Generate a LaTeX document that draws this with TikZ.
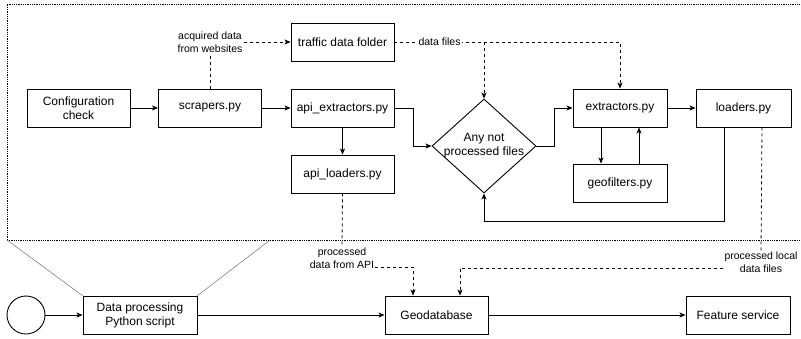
\documentclass[tikz,border=0pt]{standalone}
\usepackage{fontspec}
\setmainfont{Liberation Sans}
\usetikzlibrary{arrows.meta,positioning,shapes.geometric,calc}

\tikzset{
  box/.style={draw, line width=0.9pt, minimum width=103pt, minimum height=38pt,
    inner sep=0pt, align=center, font=\fontsize{12}{14}\selectfont},
  lbl/.style={align=center, inner sep=1pt, font=\fontsize{10.5}{12.5}\selectfont},
  flow/.style={line width=0.9pt, -{Stealth[length=6pt,width=5pt,inset=1.5pt]}},
  data/.style={line width=0.8pt, dash pattern=on 3pt off 3pt},
  frame/.style={line width=0.6pt, dash pattern=on 0.9pt off 0.9pt},
}

\begin{document}
\begin{tikzpicture}[x=1pt, y=-1pt]

  \useasboundingbox (0,0) rectangle (801,338);

  % ---- Zoom frame of the script ----
  \draw[frame] (7,240) -- (7,4) -- (812,4);
  \draw[frame] (7,240) -- (812,240);
  \draw[black!55, line width=0.5pt] (7,240) -- (83,296);
  \draw[black!55, line width=0.5pt] (270,240) -- (197,296);

  % ---- Inside the script ----
  \node[box] (conf)    at (78.5,108)  {Configuration\\check};
  \node[box] (scrap)   at (210,108)   {scrapers.py};
  \node[box] (tdf)     at (342.5,42)  {traffic data folder};
  \node[box] (apiext)  at (342.5,108) {api\_extractors.py};
  \node[box] (apiload) at (342.5,174) {api\_loaders.py};
  \node[draw, line width=0.9pt, diamond, minimum width=104pt, minimum height=94pt,
        inner sep=0pt] (check) at (484,146) {};
  \node[align=center, font=\fontsize{12}{14}\selectfont] (checktxt) at (check) {Any not\\processed files};
  \node[box, minimum width=94pt] (extr) at (620,108) {extractors.py};
  \node[box, minimum width=95pt] (load) at (743.5,108) {loaders.py};
  \node[box, minimum width=94pt] (geof) at (620,183) {geofilters.py};

  % labels of the data flows
  \node[lbl] (acq)   at (210,42)  {acquired data\\from websites};
  \node[lbl] (pdapi) at (342,258) {processed\\data from API};
  \node[lbl] (plf)   at (761,262) {processed local\\data files};

  % ---- Outer process ----
  \node[draw, line width=0.9pt, circle, minimum size=38pt, inner sep=0pt] (start) at (26,315) {};
  \node[box, minimum width=114pt] (dps)  at (140,315)   {Data processing\\Python script};
  \node[box] (geo)  at (436.5,315) {Geodatabase};
  \node[box, minimum width=104pt] (feat) at (738,315)   {Feature service};

  % ---- Solid flow ----
  \draw[flow] (conf) -- (scrap);
  \draw[flow] (scrap) -- (apiext);
  \draw[flow] (apiext) -- (apiload);
  \draw[flow] (apiext.east) -- ++(19,0) |- (check.west);
  \draw[flow] (check.east) -- ++(18,0) |- (extr.west);
  \draw[flow] (extr) -- (load);
  \draw[flow] ([xshift=-19pt]extr.south) -- ([xshift=-19pt]geof.north);
  \draw[flow] ([xshift=19pt]geof.north) -- ([xshift=19pt]extr.south);
  \draw[flow] ([xshift=-19.5pt]load.south) -- ++(0,94) -| (check.south);

  \draw[flow] (start) -- (dps);
  \draw[flow] (dps) -- (geo);
  \draw[flow] (geo) -- (feat);

  % ---- Dashed data flow ----
  \draw[data] (scrap.north) -- (acq.south);
  \draw[data, -{Stealth[length=6pt,width=5pt,inset=1.5pt]}] (acq.east) -- (tdf.west);
  \draw[data, -{Stealth[length=6pt,width=5pt,inset=1.5pt]}] (tdf.east) -| (extr.north)
    node[lbl, fill=white, pos=0.1] (dfl) {data files};
  \draw[data, -{Stealth[length=6pt,width=5pt,inset=1.5pt]}] (check.north |- tdf.east) -- (check.north);

  \draw[data] (apiload.south) -- (pdapi.north);
  \draw[data, -{Stealth[length=6pt,width=5pt,inset=1.5pt]}]
    ([yshift=-9pt]pdapi.east) -| ([xshift=-23.5pt]geo.north);
  \draw[data] ([xshift=18.5pt]load.south) -- (plf.north);
  \draw[data, -{Stealth[length=6pt,width=5pt,inset=1.5pt]}]
    ([yshift=-6pt]plf.west) -| ([xshift=23.5pt]geo.north);

\end{tikzpicture}
\end{document}
